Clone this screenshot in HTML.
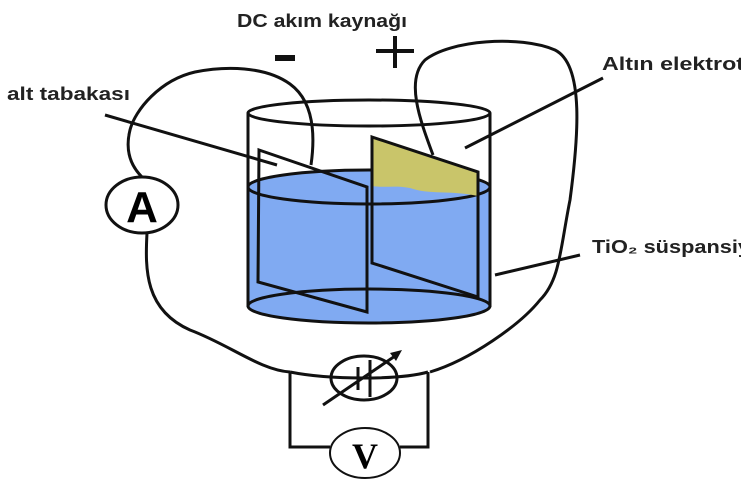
<!DOCTYPE html>
<html><head><style>body{margin:0;background:#fff}svg{display:block}</style></head><body>
<svg width="741" height="486" viewBox="0 0 741 486" xmlns="http://www.w3.org/2000/svg" font-family="Liberation Sans, sans-serif">
<!-- liquid -->
<path d="M248,187 L248,305 A121,17 0 0 0 490,305 L490,187 Z" fill="#80aaf2"/>
<ellipse cx="369" cy="187" rx="121" ry="17" fill="#80aaf2" stroke="#111" stroke-width="3"/>
<!-- yellow gold -->
<path d="M372,137 L478,172 L478,196 C450,190 430,195 410,188 C395,185 385,188 372,186 Z" fill="#c9c56a"/>
<!-- cylinder -->
<ellipse cx="369" cy="113" rx="121" ry="13" fill="none" stroke="#111" stroke-width="3"/>
<line x1="248" y1="113" x2="248" y2="307" stroke="#111" stroke-width="3"/>
<line x1="490" y1="113" x2="490" y2="307" stroke="#111" stroke-width="3"/>
<ellipse cx="369" cy="306" rx="121" ry="17" fill="none" stroke="#111" stroke-width="3"/>
<!-- plates -->
<polygon points="259,150 367,187 367,312 258,282" fill="none" stroke="#111" stroke-width="3"/>
<polygon points="372,137 478,172 478,297 372,263" fill="none" stroke="#111" stroke-width="3"/>
<!-- wires -->
<g fill="none" stroke="#111" stroke-width="3">
<path d="M311,165 C316,130 312,100 290,84 C265,66 225,66 195,72 C160,80 135,110 130,130 C125,150 130,165 142,177"/>
<path d="M147,233 C145,270 145,310 190,330 C230,345 260,370 290,372"/>
<path d="M433,155 C420,120 405,80 425,60 C450,40 520,35 555,50 C585,65 578,140 570,200 C560,250 560,280 540,300 C520,325 470,360 430,372"/>
<path d="M290,372 C330,380 400,380 428,372"/>
<path d="M290,372 L290,447 L330,447 M400,447 L428,447 L428,372"/>
<path d="M105,115 L277,165"/>
<path d="M603,78 L465,148"/>
<path d="M495,275 L580,255"/>
</g>
<ellipse cx="142" cy="205" rx="36" ry="28" fill="#fff" stroke="#111" stroke-width="3"/>
<text x="142" y="222" font-family="Liberation Sans, sans-serif" font-weight="bold" font-size="44" text-anchor="middle">A</text>
<ellipse cx="364" cy="378" rx="33" ry="22" fill="none" stroke="#111" stroke-width="3"/>
<g stroke="#111" stroke-width="3" fill="none">
<line x1="323" y1="405" x2="398" y2="354"/><line x1="370" y1="360" x2="370" y2="397"/><line x1="358" y1="367" x2="358" y2="390"/>
</g>
<polygon points="402,350 390,353 396,361" fill="#111"/>
<ellipse cx="365" cy="453" rx="35" ry="25" fill="#fff" stroke="#111" stroke-width="2"/>
<text x="365" y="468" font-family="Liberation Serif, serif" font-weight="bold" font-size="36" text-anchor="middle">V</text>
<text x="237" y="27" font-size="18" font-weight="bold" fill="#222" textLength="170" lengthAdjust="spacingAndGlyphs">DC akım kaynağı</text>
<rect x="275" y="55" width="20" height="6" fill="#111"/>
<rect x="393" y="36" width="4" height="32" fill="#111"/>
<rect x="376" y="49" width="38" height="4" fill="#111"/>
<text x="602" y="70" font-size="18" font-weight="bold" fill="#222" textLength="142" lengthAdjust="spacingAndGlyphs">Altın elektrot</text>
<text x="7" y="100" font-size="18" font-weight="bold" fill="#222" textLength="123" lengthAdjust="spacingAndGlyphs">alt tabakası</text>
<text x="592" y="253" font-size="18" font-weight="bold" fill="#222" textLength="158" lengthAdjust="spacingAndGlyphs">TiO₂ süspansiy</text>
</svg>
</body></html>
